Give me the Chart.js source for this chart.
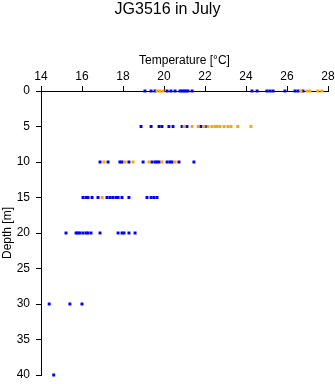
<!DOCTYPE html>
<html>
<head>
<meta charset="utf-8">
<title>JG3516 in July</title>
<script src="https://cdn.jsdelivr.net/npm/chart.js@4"></script>
<style>
  html, body { margin: 0; padding: 0; background: #fff; }
  #chart { display: block; }
</style>
</head>
<body>
<canvas id="chart" width="335" height="384"></canvas>
<script>
// Temperature readings (°C) and matching depths (m)
const blueTemps = [
  19.07, 19.37, 19.56, 20.15, 20.34, 20.54, 20.78, 20.88, 20.98, 21.07, 21.17, 21.37,
  24.29, 24.54, 25.02, 25.17, 25.32, 25.9, 26.39, 26.54, 26.78,
  18.88, 19.37, 19.76, 19.9, 20.24, 20.44, 20.88, 21.12, 21.8, 22.05,
  16.88, 17.27, 17.85, 17.95, 18.29, 18.98, 19.41, 19.56, 19.66, 19.76, 20.15, 20.29, 20.39, 20.73, 21.46,
  16.05, 16.2, 16.29, 16.49, 16.78, 17.22, 17.37, 17.51, 17.66, 17.76, 17.95, 18.29, 19.17, 19.37, 19.51, 19.66,
  15.22, 15.71, 15.8, 15.9, 16.05, 16.2, 16.29, 16.44, 16.88, 17.76, 17.95, 18.05, 18.29, 18.59,
  14.4, 15.41, 16.0,
  14.62
];
const blueDepths = [
  0, 0, 0, 0, 0, 0, 0, 0, 0, 0, 0, 0,
  0, 0, 0, 0, 0, 0, 0, 0, 0,
  5, 5, 5, 5, 5, 5, 5, 5, 5, 5,
  10, 10, 10, 10, 10, 10, 10, 10, 10, 10, 10, 10, 10, 10, 10,
  15, 15, 15, 15, 15, 15, 15, 15, 15, 15, 15, 15, 15, 15, 15, 15,
  20, 20, 20, 20, 20, 20, 20, 20, 20, 20, 20, 20, 20, 20,
  30, 30, 30,
  40
];
const orangeTemps = [
  19.66, 19.8, 19.95, 26.68, 26.98, 27.12, 27.5, 27.7,
  20.98, 21.37, 21.66, 21.95, 22.15, 22.34, 22.49, 22.59, 22.73, 22.93, 23.12, 23.27, 23.6, 24.24,
  17.07, 18.1, 18.49, 19.27, 19.9, 20.54,
  16.98
];
const orangeDepths = [
  0, 0, 0, 0, 0, 0, 0, 0,
  5, 5, 5, 5, 5, 5, 5, 5, 5, 5, 5, 5, 5, 5,
  10, 10, 10, 10, 10, 10,
  15
];

// Axis ticks
const tempTicks = [14, 16, 18, 20, 22, 24, 26, 28];
const depthTicks = [0, 5, 10, 15, 20, 25, 30, 35, 40];

const FONT = "'Liberation Sans', Arial, Helvetica, sans-serif";

const toPoints = (xs, ys) => xs.map((x, i) => ({ x: x, y: ys[i] }));

// R-style axis: black line, short outward ticks, no grid inside the plot
const axisGrid = {
  display: true,
  drawOnChartArea: false,
  drawTicks: true,
  tickLength: 5,
  tickWidth: 1,
  tickColor: "#000"
};

new Chart(document.getElementById("chart"), {
  type: "scatter",
  data: {
    datasets: [
      {
        label: "orange",
        data: toPoints(orangeTemps, orangeDepths),
        backgroundColor: "#FFA500",
        borderWidth: 0,
        pointStyle: "rect",
        pointRadius: 2.1,
        clip: false
      },
      {
        label: "blue",
        data: toPoints(blueTemps, blueDepths),
        backgroundColor: "#0000FF",
        borderWidth: 0,
        pointStyle: "rect",
        pointRadius: 2.1,
        clip: false
      }
    ]
  },
  options: {
    responsive: false,
    animation: false,
    layout: { padding: 0 },
    plugins: {
      legend: { display: false },
      tooltip: { enabled: false },
      title: {
        display: true,
        text: "JG3516 in July",
        color: "#000",
        font: { family: FONT, size: 16, weight: "normal", lineHeight: 1.2 },
        padding: { top: 0, bottom: 0 }
      }
    },
    scales: {
      x: {
        type: "linear",
        position: "top",
        min: 14,
        max: 28,
        afterBuildTicks: (scale) => { scale.ticks = tempTicks.map(v => ({ value: v })); },
        afterFit: (scale) => {
          scale.height = 71.8;
          scale.paddingLeft = 0;
          scale.paddingRight = 7;
        },
        grid: axisGrid,
        border: { display: true, color: "#000", width: 1 },
        ticks: { color: "#000", padding: 2, maxRotation: 0, font: { family: FONT, size: 12 } },
        title: {
          display: true,
          text: "Temperature [°C]",
          color: "#000",
          font: { family: FONT, size: 12 },
          padding: { top: 34, bottom: 0 }
        }
      },
      y: {
        type: "linear",
        reverse: true,
        min: 0,
        max: 40,
        afterBuildTicks: (scale) => { scale.ticks = depthTicks.map(v => ({ value: v })); },
        afterFit: (scale) => {
          scale.width = 41;
          scale.paddingTop = 0;
          scale.paddingBottom = 9;
        },
        grid: axisGrid,
        border: { display: true, color: "#000", width: 1 },
        ticks: { color: "#000", padding: 6, font: { family: FONT, size: 12 } },
        title: {
          display: true,
          text: "Depth [m]",
          color: "#000",
          font: { family: FONT, size: 12 },
          padding: { top: 0, bottom: 0 }
        }
      }
    }
  }
});
</script>
</body>
</html>
